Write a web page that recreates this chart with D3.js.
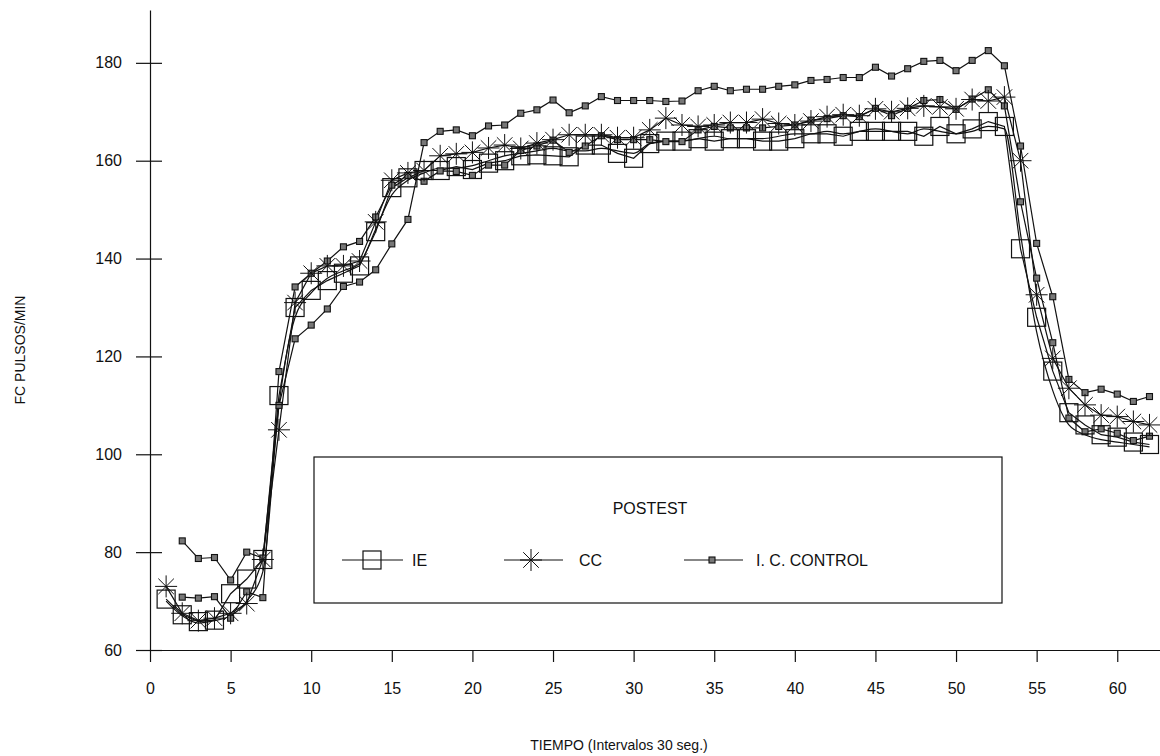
<!DOCTYPE html>
<html>
<head>
<meta charset="utf-8">
<script src="https://cdn.jsdelivr.net/npm/d3@7"></script>
<style>
  body { margin: 0; background: #fff; }
  svg { display: block; font-family: "Liberation Sans", Arial, sans-serif; }
  .axis path, .axis line { stroke: #111; stroke-width: 1.2; }
  .axis text { font-size: 16px; fill: #111; }
</style>
</head>
<body>
<div id="chart"></div>
<script>
(function(){
    // Data
    const tiempo = [1,2,3,4,5,6,7,8,9,10,11,12,13,14,15,16,17,18,19,20,
        21,22,23,24,25,26,27,28,29,30,31,32,33,34,35,36,37,38,39,40,
        41,42,43,44,45,46,47,48,49,50,51,52,53,54,55,56,57,58,59,60,61,62];

    const ie = [70.4,67.2,65.8,66.1,71.5,74.5,78.5,112,130,133.5,135.5,137,138.5,145.5,154.5,156.5,158,158,158.8,158.2,
        159.5,160,161,161.2,161,160.8,163.2,163.2,161.5,160.5,163.5,164,164,164.5,164,164.5,164.5,164,164,164.5,
        165.5,165.5,165,166,166,166,166,165,167,165.5,166.5,168,167,142,128,117,108.5,106,104,103.5,102.5,102];

    const cc = [73,67.5,66,66.5,67.5,69.5,78.5,105,131,137,138.5,138.5,139.5,147.5,156,157.5,158,161,161.4,161.7,
        162.6,163.2,162.5,163.6,164.3,165.3,165.3,165.3,164.7,164.7,166.3,168.7,167.3,167,167.3,167.8,167.8,168.5,167.6,167.3,
        168.1,169,169.4,169.2,170.6,170,170.7,171.2,171,170.6,172.5,172.2,173,160,132.6,119.6,113.5,110.1,108,107.7,106.7,106];

    const icControl = [null,82.3,78.7,78.9,74.3,80,78.8,110,123.6,126.4,129.7,134.3,135.2,137.7,143,148,163.7,166,166.3,165.1,
        167.1,167.3,169.7,170.4,172.4,169.8,171.2,173.1,172.3,172.3,172.3,172.1,172.2,174.3,175.2,174.3,174.6,174.6,175.2,175.5,
        176.4,176.6,177,177,179.1,177.3,178.8,180.3,180.5,178.4,180.5,182.5,179.4,163,143.1,132.2,115.3,112.6,113.3,112.3,110.8,111.8];

    const icControl2 = [null,70.8,70.6,70.9,66.5,71.9,70.7,116.9,134.2,137,139.5,142.4,143.5,148.5,155,157,155.8,157.9,157.8,157,
        159.1,159.1,162.1,163,164.2,161.7,163,165.1,164.3,164.3,164.3,163.9,163.9,166.3,167,166.7,166.7,166.7,167,167.3,
        168.3,168.6,169.2,169,170.7,169.2,170.7,172.3,172.5,170.5,172.6,174.5,171.2,151.6,136,122.8,107.4,104.6,105.2,104.3,102.8,103.7];

    const sinMarca = [70,67,65.5,66,67,70,76,110,128,133,136,137.5,139,146,153,156,157.5,158.5,158.5,159,
        160,161,161.5,162,162.5,162,162,162.5,162,161.5,163.5,164,164,164.5,165,164.5,164.5,164.5,165,165.5,
        165.5,166,165.5,166,166.5,166,165.5,166.5,166,165.5,166,167,166.5,145,125,113,106,104,103,102.5,102,101.5];

    const xTicks = [0,5,10,15,20,25,30,35,40,45,50,55,60];
    const yTicks = [60,80,100,120,140,160,180];

    const W = 1160, H = 756;
    const ink = "#111";

    const svg = d3.select("#chart")
        .append("svg")
        .attr("width", W)
        .attr("height", H);

    const x = d3.scaleLinear().domain([0, 62.9]).range([150, 1164]);
    const y = d3.scaleLinear().domain([60, 190.8]).range([650, 10]);

    // Axes
    svg.append("g")
        .attr("class", "axis")
        .attr("transform", "translate(0,650)")
        .call(d3.axisBottom(x).tickValues(xTicks).tickSizeInner(12).tickSizeOuter(0).tickPadding(21));

    const yAxis = svg.append("g")
        .attr("class", "axis")
        .attr("transform", "translate(150,0)")
        .call(d3.axisLeft(y).tickValues(yTicks).tickSizeInner(14).tickSizeOuter(0).tickPadding(14));

    yAxis.selectAll(".tick")
        .append("line")
        .attr("x1", 0)
        .attr("x2", 12)
        .attr("stroke", ink);

    // Axis titles
    svg.append("text")
        .attr("x", 619)
        .attr("y", 750)
        .attr("text-anchor", "middle")
        .style("font-size", "14px")
        .attr("fill", ink)
        .text("TIEMPO (Intervalos 30 seg.)");

    svg.append("text")
        .attr("transform", "translate(25,350) rotate(-90)")
        .attr("text-anchor", "middle")
        .style("font-size", "14px")
        .attr("fill", ink)
        .text("FC PULSOS/MIN");

    // Marker helpers
    function bigSquare(g, cx, cy) {
        g.append("rect")
            .attr("x", cx - 9).attr("y", cy - 9)
            .attr("width", 18).attr("height", 18)
            .attr("fill", "none").attr("stroke", ink).attr("stroke-width", 1.2);
    }
    function asterisk(g, cx, cy) {
        const r = 11;
        [0, 45, 90, 135].forEach(a => {
            const dx = r * Math.cos(a * Math.PI / 180), dy = r * Math.sin(a * Math.PI / 180);
            g.append("line")
                .attr("x1", cx - dx).attr("y1", cy - dy)
                .attr("x2", cx + dx).attr("y2", cy + dy)
                .attr("stroke", ink).attr("stroke-width", 1);
        });
    }
    function smallSquare(g, cx, cy) {
        g.append("rect")
            .attr("x", cx - 3).attr("y", cy - 3)
            .attr("width", 6).attr("height", 6)
            .attr("fill", "#777").attr("stroke", ink).attr("stroke-width", 1.1);
    }

    const series = [
        { values: sinMarca, marker: null, curve: d3.curveMonotoneX },
        { values: icControl2, marker: smallSquare, curve: d3.curveLinear },
        { values: icControl, marker: smallSquare, curve: d3.curveLinear },
        { values: ie, marker: bigSquare, curve: d3.curveLinear },
        { values: cc, marker: asterisk, curve: d3.curveLinear }
    ];

    const plot = svg.append("g");

    series.forEach(s => {
        const pts = tiempo.map((t, i) => [t, s.values[i]]).filter(p => p[1] != null);
        const line = d3.line()
            .x(p => x(p[0]))
            .y(p => y(p[1]))
            .curve(s.curve);
        plot.append("path")
            .datum(pts)
            .attr("fill", "none")
            .attr("stroke", ink)
            .attr("stroke-width", 1.2)
            .attr("d", line);
    });

    series.forEach(s => {
        if (!s.marker) return;
        const g = plot.append("g");
        tiempo.forEach((t, i) => {
            if (s.values[i] == null) return;
            s.marker(g, x(t), y(s.values[i]));
        });
    });

    // Legend
    const legend = svg.append("g");
    legend.append("rect")
        .attr("x", 314).attr("y", 457)
        .attr("width", 688).attr("height", 146)
        .attr("fill", "#fff").attr("stroke", ink).attr("stroke-width", 1.2);

    legend.append("text")
        .attr("x", 650).attr("y", 514)
        .attr("text-anchor", "middle")
        .style("font-size", "16px")
        .attr("fill", ink)
        .text("POSTEST");

    const legendItems = [
        { label: "IE", marker: bigSquare, x1: 342, x2: 403, mx: 372, tx: 412 },
        { label: "CC", marker: asterisk, x1: 504, x2: 563, mx: 531, tx: 579 },
        { label: "I. C. CONTROL", marker: smallSquare, x1: 684, x2: 743, mx: 712, tx: 756 }
    ];
    const ly = 560;
    legendItems.forEach(d => {
        legend.append("line")
            .attr("x1", d.x1).attr("x2", d.x2)
            .attr("y1", ly).attr("y2", ly)
            .attr("stroke", ink).attr("stroke-width", 1.2);
        d.marker(legend, d.mx, ly);
        legend.append("text")
            .attr("x", d.tx).attr("y", ly + 6)
            .style("font-size", "16px")
            .attr("fill", ink)
            .text(d.label);
    });
})();
</script>
</body>
</html>
